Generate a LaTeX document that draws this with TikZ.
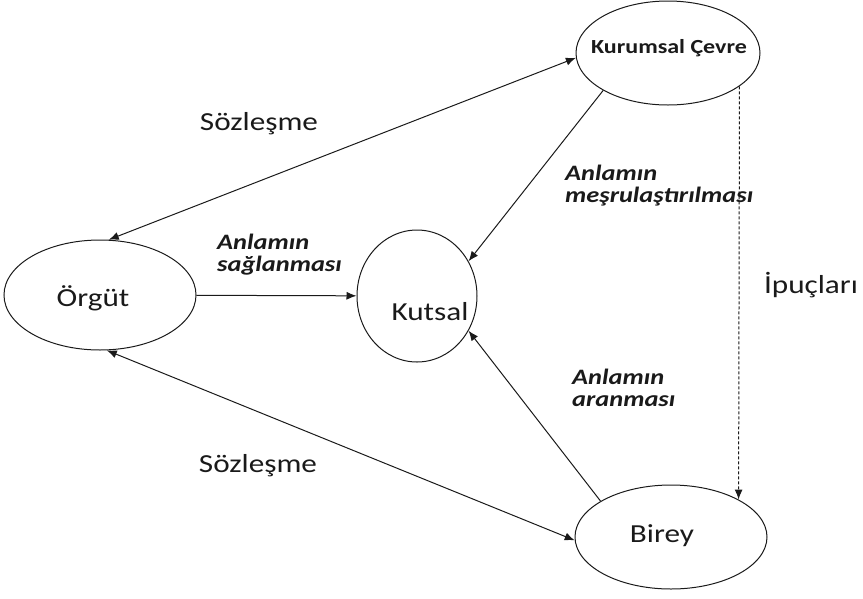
\documentclass[tikz,border=0pt]{standalone}
\usepackage{fontspec}
\setmainfont{Carlito}[FakeStretch=1.2]
\usetikzlibrary{shapes.geometric,arrows.meta}
\definecolor{ink}{HTML}{1A1A1A}
\tikzset{
  ell/.style={draw=ink, line width=1pt, ellipse, inner sep=0pt},
  lbl/.style={text=ink, font=\fontsize{26}{30}\selectfont, inner sep=0pt},
  itl/.style={text=ink, font=\fontsize{22}{26}\selectfont\bfseries\itshape, inner sep=0pt, align=left},
  con/.style={draw=ink, line width=1pt},
  tip/.style={-{Latex[length=10pt,width=8pt]}},
  dtip/.style={{Latex[length=10pt,width=8pt]}-{Latex[length=10pt,width=8pt]}}
}
\begin{document}
\begin{tikzpicture}[x=1pt,y=-1pt]
\useasboundingbox (0,0) rectangle (863,598);
% ellipses
\node[ell, minimum width=184pt, minimum height=104pt] (K) at (668,53) {};
\node[ell, minimum width=192pt, minimum height=110pt] (O) at (100,295) {};
\node[ell, minimum width=120pt, minimum height=132pt] (Ku) at (417,296) {};
\node[ell, minimum width=192pt, minimum height=104pt] (B) at (671,537) {};
% node texts
\node[text=ink, font=\fontsize{20}{24}\selectfont\bfseries, inner sep=0pt] (Kt) at (669,48) {Kurumsal Çevre};
\node[lbl] (Ot) at (93,298) {Örgüt};
\node[lbl] (Kut) at (430,312) {Kutsal};
\node[lbl] (Bt) at (662,536) {Birey};
% connectors
\draw[con,dtip] (O.81) -- (K.183);
\draw[con,dtip] (O.-83) -- (B.182);
\draw[con,tip] (O) -- (Ku);
\draw[con,tip] (K.210) -- (Ku.34);
\draw[con,tip] (B.153) -- (Ku.-34);
\draw[con,tip,dash pattern=on 3pt off 2pt] (K.-25) -- (B.29);
% edge labels
\node[lbl] (s1) at (259,124) {Sözleşme};
\node[lbl] (s2) at (258,466) {Sözleşme};
\node[lbl] (ip) at (811,285) {İpuçları};
\node[itl, anchor=west] (a1) at (217,255) {Anlamın\\[-4pt]sağlanması};
\node[itl, anchor=west] (a2) at (565,186) {Anlamın\\[-4pt]meşrulaştırılması};
\node[itl, anchor=west] (a3) at (572,388) {Anlamın\\[-4pt]aranması};
\end{tikzpicture}
\end{document}
